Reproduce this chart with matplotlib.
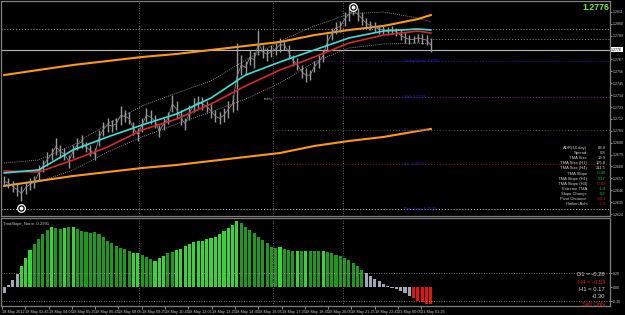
import matplotlib
matplotlib.use("Agg")
import matplotlib.pyplot as plt

plt.rcParams['font.family'] = ['Liberation Sans', 'DejaVu Sans']

# EURUSD price bars (high / low), one entry per bar
bar_high = [1.2659, 1.2657, 1.2655, 1.2652, 1.2650, 1.2654, 1.2657, 1.2659, 1.2669, 1.2674,
            1.2681, 1.2685, 1.2694, 1.2688, 1.2685, 1.2679, 1.2688, 1.2694, 1.2697, 1.2691,
            1.2688, 1.2685, 1.2702, 1.2709, 1.2713, 1.2711, 1.2713, 1.2724, 1.2720, 1.2718,
            1.2709, 1.2704, 1.2713, 1.2722, 1.2720, 1.2716, 1.2706, 1.2713, 1.2718, 1.2734,
            1.2729, 1.2720, 1.2713, 1.2725, 1.2731, 1.2733, 1.2732, 1.2729, 1.2726, 1.2720,
            1.2718, 1.2722, 1.2729, 1.2734, 1.2782, 1.2771, 1.2766, 1.2776, 1.2774, 1.2794,
            1.2780, 1.2778, 1.2780, 1.2783, 1.2787, 1.2785, 1.2780, 1.2771, 1.2768, 1.2762,
            1.2759, 1.2757, 1.2766, 1.2771, 1.2776, 1.2791, 1.2796, 1.2802, 1.2803, 1.2811,
            1.2815, 1.2816, 1.2815, 1.2811, 1.2805, 1.2803, 1.2802, 1.2799, 1.2798, 1.2797,
            1.2798, 1.2796, 1.2794, 1.2792, 1.2790, 1.2789, 1.2791, 1.2791, 1.2790, 1.2787]
bar_low = [1.2650, 1.2648, 1.2644, 1.2641, 1.2636, 1.2643, 1.2646, 1.2648, 1.2655, 1.2663,
           1.2668, 1.2674, 1.2679, 1.2676, 1.2674, 1.2667, 1.2676, 1.2683, 1.2685, 1.2681,
           1.2678, 1.2674, 1.2687, 1.2696, 1.2700, 1.2700, 1.2702, 1.2706, 1.2709, 1.2707,
           1.2697, 1.2692, 1.2700, 1.2709, 1.2707, 1.2704, 1.2695, 1.2702, 1.2707, 1.2718,
           1.2713, 1.2706, 1.2702, 1.2711, 1.2718, 1.2722, 1.2720, 1.2718, 1.2713, 1.2709,
           1.2707, 1.2709, 1.2713, 1.2718, 1.2720, 1.2753, 1.2753, 1.2762, 1.2759, 1.2771,
           1.2768, 1.2766, 1.2769, 1.2771, 1.2774, 1.2776, 1.2768, 1.2761, 1.2757, 1.2750,
           1.2746, 1.2748, 1.2755, 1.2759, 1.2765, 1.2776, 1.2785, 1.2791, 1.2792, 1.2798,
           1.2803, 1.2808, 1.2803, 1.2799, 1.2796, 1.2794, 1.2792, 1.2791, 1.2791, 1.2790,
           1.2791, 1.2789, 1.2785, 1.2782, 1.2781, 1.2782, 1.2783, 1.2781, 1.2780, 1.2774]

# indicator lines, read at these bars
line_bars = [0, 8, 16, 24, 32, 40, 48, 56, 64, 72, 80, 88, 96, 99]
tma_fast = [1.26620, 1.26648, 1.26833, 1.26953, 1.27064, 1.27166, 1.27314,
            1.27526, 1.27647, 1.27758, 1.27869, 1.27933, 1.27952, 1.27943]
tma_slow = [1.26638, 1.26629, 1.26740, 1.26860, 1.27018, 1.27119, 1.27258,
            1.27425, 1.27573, 1.27693, 1.27822, 1.27896, 1.27933, 1.27915]
band_up = [1.26712, 1.26740, 1.26879, 1.27073, 1.27240, 1.27360, 1.27471,
           1.27665, 1.27841, 1.27980, 1.28091, 1.28109, 1.28054, 1.28017]
band_dn = [1.26509, 1.26537, 1.26648, 1.26814, 1.26953, 1.27073, 1.27184,
           1.27304, 1.27452, 1.27647, 1.27776, 1.27813, 1.27822, 1.27813]
long_up = [1.27526, 1.27573, 1.27619, 1.27656, 1.27693, 1.27721, 1.27758,
           1.27795, 1.27832, 1.27896, 1.27943, 1.27980, 1.28044, 1.28081]
long_dn = [1.26500, 1.26546, 1.26592, 1.26629, 1.26666, 1.26694, 1.26731,
           1.26768, 1.26805, 1.26870, 1.26916, 1.26953, 1.27008, 1.27027]

# horizontal levels
level_price = [1.2795, 1.2786, 1.2766, 1.2732, 1.2702, 1.2670, 1.2629]
level_from = [-1, 98.8, 66.3, 62.4, 62.4, 62.4, -1]
level_color = ['#a0a0a0', '#909090', '#2020b0', '#902090', '#207020', '#902020', '#d8d8d8']
level_text = ['', '', 'TodayOpen: 1.2766', 'Mid: 1.2732', 'Pivot: 1.2702', 'S1: 1.2670', 'Prev Low: 1.2629']
bid = 1.2776
session_marks = [31.3, 62.4, 78.6]
swing_bars = [4, 81]
swing_price = [1.2630, 1.2816]

price_ticks = [1.2811, 1.2800, 1.2789, 1.2767, 1.2756, 1.2745, 1.2734, 1.2723, 1.2712,
               1.2701, 1.2690, 1.2679, 1.2668, 1.2657, 1.2646, 1.2635, 1.2624]

# TmaSlope_Norm histogram
slope = [-0.08, 0.03, 0.10, 0.18, 0.30, 0.42, 0.53, 0.62, 0.68, 0.76,
         0.82, 0.86, 0.84, 0.83, 0.84, 0.86, 0.86, 0.83, 0.80, 0.78,
         0.77, 0.78, 0.76, 0.72, 0.66, 0.63, 0.59, 0.56, 0.54, 0.51,
         0.49, 0.48, 0.46, 0.43, 0.40, 0.37, 0.41, 0.45, 0.48, 0.50,
         0.53, 0.55, 0.59, 0.62, 0.64, 0.66, 0.66, 0.68, 0.70, 0.72,
         0.76, 0.80, 0.85, 0.89, 0.94, 0.91, 0.86, 0.82, 0.77, 0.72,
         0.67, 0.63, 0.57, 0.56, 0.57, 0.55, 0.53, 0.52, 0.51, 0.51,
         0.51, 0.51, 0.51, 0.52, 0.51, 0.50, 0.49, 0.46, 0.44, 0.41,
         0.38, 0.35, 0.30, 0.25, 0.20, 0.16, 0.12, 0.08, 0.05, 0.02,
         -0.01, -0.03, -0.05, -0.09, -0.13, -0.16, -0.20, -0.22, -0.24, -0.24]
slope_state = ("g" * 4 + "L" * 3 + "D" * 4 + "L" + "D" * 2 + "L" + "D" + "L" + "D" * 13
               + "L" * 2 + "D" * 3 + "L" * 3 + "D" * 2 + "L" * 15 + "D" * 9 + "L" + "D" * 3
               + "L" + "D" + "L" + "D" * 3 + "L" + "D" * 9 + "g" * 11 + "R" * 5)
state_colors = {'g': '#9ea6b8', 'L': '#34d634', 'D': '#1d9a1d', 'R': '#e01414'}

time_labels = ["18 May 2012", "18 May 02:45", "18 May 04:05", "18 May 05:25", "18 May 06:45",
               "18 May 08:05", "18 May 09:25", "18 May 10:45", "18 May 12:05", "18 May 13:25",
               "18 May 14:45", "18 May 16:05", "18 May 17:25", "18 May 18:45", "18 May 20:05",
               "18 May 21:25", "18 May 22:45", "21 May 00:05", "21 May 01:25"]

info_names = ["ADR(14-day)", "Spread", "TMA Size", "TMA Size (H1)", "TMA Size (H4)", "TMA Slope",
              "TMA Slope (H1)", "TMA Slope (H4)", "Extreme TMA", "Slope Change",
              "Pivot Distance", "Heiken Ashi"]
info_values = ["83.9", "0.8", "19.9", "125.8", "211.5", "-0.30", "0.17", "-0.59", "-1.4",
               "0.2", "-20.3", "-7.0"]
info_colors = ['#d0d0d0'] * 5 + ['#22cc22', '#22cc22', '#dd2020', '#22cc22', '#22cc22',
                                 '#dd2020', '#dd2020']

tf_text = ["D1 = -0.28", "H4 = -0.59", "H1 = 0.17", "-0.30", "Sell Only"]
tf_colors = ['#d8d8d8', '#dd1a1a', '#d8d8d8', '#d8d8d8', '#ee1a1a']


def px(x, y):
    return x / 625, 1 - y / 315


fig = plt.figure(figsize=(6.25, 3.15), dpi=100, facecolor='black')
ax = fig.add_axes([1 / 625, 1 - 216 / 315, 609 / 625, 215 / 315], facecolor='black')
sub = fig.add_axes([1 / 625, 1 - 306 / 315, 609 / 625, 88 / 315], facecolor='black')

xmin, xmax = -0.73, 140.57
n = len(bar_high)

# ---- main window
for p, x0, c, t in zip(level_price, level_from, level_color, level_text):
    ax.hlines(p, max(x0, xmin), xmax, colors=c, linestyles=(0, (1, 2)), lw=0.7)
    if t:
        ax.text(92.8, p, t, color='#2a2ad0', fontsize=3.0, va='center', ha='left')
ax.axhline(bid, color='#b8b8b8', lw=0.8)
for m in session_marks:
    ax.axvline(m, color='#8a8a8a', ls=(0, (1, 2)), lw=0.6)
ax.text(60.3, 1.2730, "today", color='#909090', fontsize=2.8, va='center')

ax.plot(line_bars, long_up, color='#ff9a10', lw=1.5)
ax.plot(line_bars, long_dn, color='#ff9a10', lw=1.5)
ax.plot(line_bars, band_up, color='#b0b0b0', ls=(0, (1, 1.5)), lw=0.6)
ax.plot(line_bars, band_dn, color='#b0b0b0', ls=(0, (1, 1.5)), lw=0.6)

idx = list(range(n))
mids = [(h + l) / 2 for h, l in zip(bar_high, bar_low)]
ax.vlines(idx, bar_low, bar_high, colors='#9a9a9a', lw=1.0)
ax.plot(idx, mids, color='#8a8a8a', lw=0.6)

ax.plot(line_bars, tma_slow, color='#d42a2a', lw=1.2)
ax.plot(line_bars, tma_fast, color='#3ce0d8', lw=1.2)

ax.plot(swing_bars, swing_price, 'o', ms=5.5, mfc='black', mec='white', mew=0.9)
ax.plot(swing_bars, swing_price, 'o', ms=1.8, color='white')

ax.set_xlim(xmin, xmax)
ax.set_ylim(1.26222, 1.28211)
ax.set_xticks([])
ax.yaxis.tick_right()
ax.set_yticks(price_ticks)
ax.set_yticklabels([f"{p:.4f}" for p in price_ticks])
ax.tick_params(axis='y', labelsize=2.6, colors='#c8c8c8', length=1.5, width=0.5, pad=0.5)

ax.text(1.002, bid, f"{bid:.4f}", transform=ax.get_yaxis_transform(), fontsize=2.6,
        color='black', va='center', ha='left',
        bbox=dict(boxstyle='square,pad=0.12', fc='white', ec='none'))

fig.text(*px(609, 7), f"{bid:.4f}", color='#6ef03a', fontsize=6.3, fontweight='bold',
         ha='right', va='center')

for k, (name, val, col) in enumerate(zip(info_names, info_values, info_colors)):
    y = 148 + k * 5.1
    fig.text(*px(587, y), name, color='#d0d0d0', fontsize=3.0, ha='right', va='center')
    fig.text(*px(606, y), val, color=col, fontsize=3.0, ha='right', va='center')

# ---- TmaSlope_Norm window
sub.bar(idx, slope, width=0.72, color=[state_colors[s] for s in slope_state])
for m in session_marks:
    sub.axvline(m, color='#8a8a8a', ls=(0, (1, 2)), lw=0.6)
for lv in (0.2, -0.2):
    sub.axhline(lv, color='#a0a0a0', ls=(0, (1, 2)), lw=0.6)
sub.set_xlim(xmin, xmax)
sub.set_ylim(-0.271, 0.986)
sub.yaxis.tick_right()
sub.set_yticks([0.2, 0.0, -0.2])
sub.set_yticklabels(["0.20", "0.00", "-0.20"])
sub.tick_params(axis='y', labelsize=2.6, colors='#c8c8c8', length=1.5, width=0.5, pad=0.5)
sub.set_xticks([k * 5.406 - 0.5 for k in range(len(time_labels))])
sub.set_xticklabels(time_labels, ha='left')
sub.tick_params(axis='x', labelsize=2.8, colors='#c8c8c8', length=2, width=0.5, pad=1)
sub.text(0.004, 0.96, "TmaSlope_Norm -0.2991", transform=sub.transAxes, color='#c8c8c8',
         fontsize=3.0, va='top')

for k, (t, c) in enumerate(zip(tf_text, tf_colors)):
    fig.text(*px(605, 275 + k * 7.3), t, color=c, fontsize=4.2, ha='right', va='center')

for a in (ax, sub):
    for s in a.spines.values():
        s.set_color('#808080')
        s.set_linewidth(0.9)

fig.savefig("out.png", dpi=100, facecolor='black')
